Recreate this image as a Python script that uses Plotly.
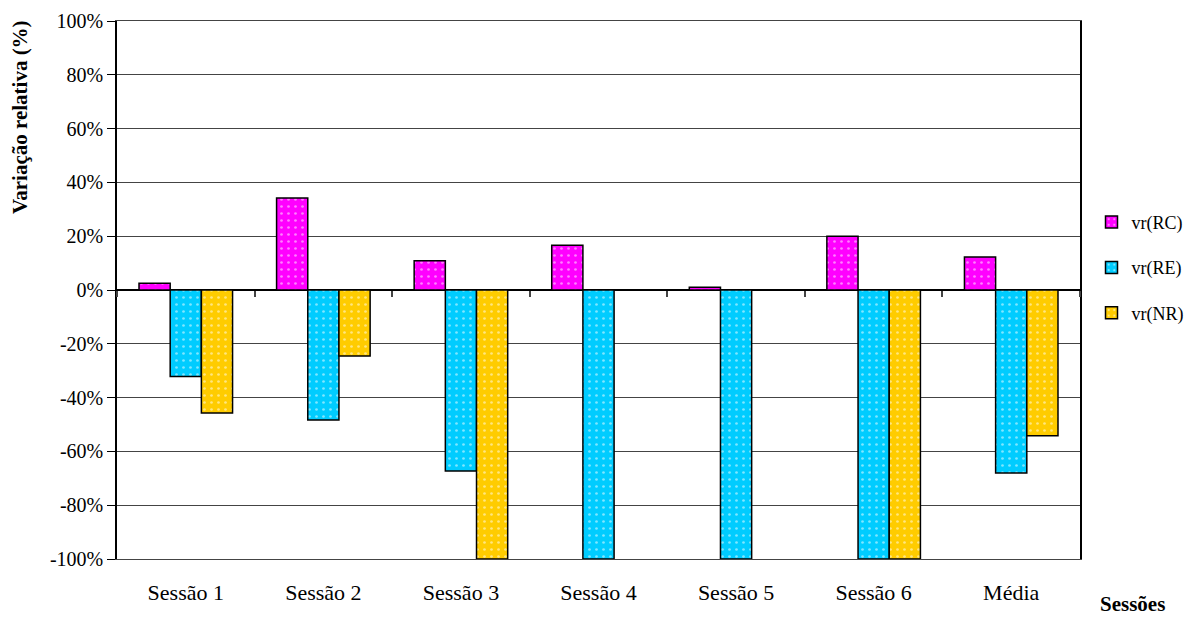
import plotly.graph_objects as go

categories = ["Sessão 1", "Sessão 2", "Sessão 3", "Sessão 4", "Sessão 5", "Sessão 6", "Média"]
vr_rc = [2.5, 34.2, 10.9, 16.6, 1.0, 20.0, 12.3]
vr_re = [-32.2, -48.3, -67.3, -100.0, -100.0, -100.0, -68.0]
vr_nr = [-45.7, -24.5, -100.0, 0.0, 0.0, -100.0, -54.2]
series_names = ["vr(RC)", "vr(RE)", "vr(NR)"]
colors = ["#FF00FF", "#00CCFF", "#FFCC00"]
y_ticks = [-100, -80, -60, -40, -20, 0, 20, 40, 60, 80, 100]

FONT = "'Times New Roman', 'Liberation Serif', Times, serif"
FS = 20

fig = go.Figure()
for i, (name, vals, col) in enumerate(zip(series_names, [vr_rc, vr_re, vr_nr], colors)):
    fig.add_trace(go.Bar(
        x=categories, y=vals, name=name, legendgroup=name,
        marker=dict(color=col, line=dict(color="black", width=1.5),
                    pattern=dict(shape=".", fgcolor="white", bgcolor=col,
                                 size=7, solidity=0.12, fillmode="overlay")),
    ))

# invisible trace to draw category tick marks at the zero line
fig.add_trace(go.Scatter(x=categories, y=[0]*len(categories), xaxis="x2",
                         mode="markers", marker=dict(opacity=0), showlegend=False,
                         hoverinfo="skip"))

fig.update_layout(
    width=1189, height=617,
    margin=dict(l=117, r=109, t=21, b=58, autoexpand=False),
    paper_bgcolor="white", plot_bgcolor="white",
    font=dict(family=FONT, size=FS, color="black"),
    barmode="group", bargap=0.32, bargroupgap=0,
    showlegend=True,
    legend=dict(xref="container", yref="container", x=0.918, y=0.566,
                yanchor="middle", xanchor="left",
                font=dict(family=FONT, size=18), tracegroupgap=19,
                traceorder="grouped", itemwidth=30, bgcolor="rgba(0,0,0,0)"),
    xaxis=dict(type="category", categoryarray=categories, range=[-0.5, 6.5],
               showgrid=False, showline=True, linecolor="#444", linewidth=1,
               mirror=True, ticks="", tickfont=dict(family=FONT, size=22),
               ticklabelstandoff=14),
    xaxis2=dict(type="category", categoryarray=categories, range=[-0.5, 6.5],
                overlaying="x", anchor="free", position=0.5, side="bottom",
                showline=False, showgrid=False, showticklabels=False,
                ticks="outside", tickson="boundaries", ticklen=6, tickcolor="#444",
                tickwidth=1.5),
    yaxis=dict(range=[-100, 100], tickvals=y_ticks,
               ticktext=[f"{v}%" for v in y_ticks],
               showgrid=True, gridcolor="#444", gridwidth=1,
               zeroline=True, zerolinecolor="black", zerolinewidth=1.5,
               showline=True, linecolor="black", linewidth=1.5, mirror=True,
               ticks="outside", ticklen=8, tickcolor="black",
               tickfont=dict(family=FONT, size=FS)),
    annotations=[
        dict(text="<b>Variação relativa (%)</b>", xref="paper", yref="paper",
             x=-0.1, y=1.005, xanchor="center", yanchor="top", textangle=-90,
             showarrow=False, font=dict(family=FONT, size=21)),
        dict(text="<b>Sessões</b>", xref="paper", yref="paper",
             x=1.055, y=-0.083, xanchor="center", yanchor="middle",
             showarrow=False, font=dict(family=FONT, size=21)),
    ],
)

fig.write_html("out.html", config={"displayModeBar": False},
               post_script="document.body.style.margin='0';")
